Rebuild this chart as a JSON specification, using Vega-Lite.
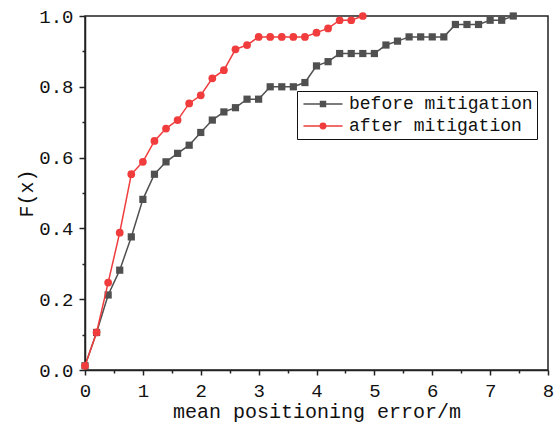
{
  "$schema": "https://vega.github.io/schema/vega-lite/v6.json",
  "width": 463,
  "height": 354,
  "autosize": {"type": "none"},
  "padding": {"left": 85, "top": 16, "right": 10, "bottom": 58},
  "background": "white",
  "view": {"stroke": "#222222", "strokeWidth": 1.5},
  "config": {
    "font": "Liberation Mono",
    "axis": {
      "grid": false,
      "domainColor": "#222222",
      "domainWidth": 1.5,
      "tickColor": "#222222",
      "tickWidth": 1.5,
      "labelFont": "Liberation Mono",
      "labelFontSize": 19,
      "labelColor": "#111111",
      "titleFont": "Liberation Mono",
      "titleFontSize": 20,
      "titleFontWeight": "normal",
      "titleColor": "#111111",
      "labelOverlap": false,
      "labelFlush": false,
      "labelBound": false
    }
  },
  "data": {
    "values": [
      {"series": "before mitigation", "x": 0.0, "y": 0.012},
      {"series": "before mitigation", "x": 0.2, "y": 0.106},
      {"series": "before mitigation", "x": 0.4, "y": 0.212},
      {"series": "before mitigation", "x": 0.6, "y": 0.282},
      {"series": "before mitigation", "x": 0.8, "y": 0.376},
      {"series": "before mitigation", "x": 1.0, "y": 0.482},
      {"series": "before mitigation", "x": 1.2, "y": 0.553},
      {"series": "before mitigation", "x": 1.4, "y": 0.588},
      {"series": "before mitigation", "x": 1.6, "y": 0.612},
      {"series": "before mitigation", "x": 1.8, "y": 0.635},
      {"series": "before mitigation", "x": 2.0, "y": 0.671},
      {"series": "before mitigation", "x": 2.2, "y": 0.706},
      {"series": "before mitigation", "x": 2.4, "y": 0.729},
      {"series": "before mitigation", "x": 2.6, "y": 0.741},
      {"series": "before mitigation", "x": 2.8, "y": 0.765},
      {"series": "before mitigation", "x": 3.0, "y": 0.765},
      {"series": "before mitigation", "x": 3.2, "y": 0.8},
      {"series": "before mitigation", "x": 3.4, "y": 0.8},
      {"series": "before mitigation", "x": 3.6, "y": 0.8},
      {"series": "before mitigation", "x": 3.8, "y": 0.812},
      {"series": "before mitigation", "x": 4.0, "y": 0.859},
      {"series": "before mitigation", "x": 4.2, "y": 0.871},
      {"series": "before mitigation", "x": 4.4, "y": 0.894},
      {"series": "before mitigation", "x": 4.6, "y": 0.894},
      {"series": "before mitigation", "x": 4.8, "y": 0.894},
      {"series": "before mitigation", "x": 5.0, "y": 0.894},
      {"series": "before mitigation", "x": 5.2, "y": 0.918},
      {"series": "before mitigation", "x": 5.4, "y": 0.929},
      {"series": "before mitigation", "x": 5.6, "y": 0.941},
      {"series": "before mitigation", "x": 5.8, "y": 0.941},
      {"series": "before mitigation", "x": 6.0, "y": 0.941},
      {"series": "before mitigation", "x": 6.2, "y": 0.941},
      {"series": "before mitigation", "x": 6.4, "y": 0.976},
      {"series": "before mitigation", "x": 6.6, "y": 0.976},
      {"series": "before mitigation", "x": 6.8, "y": 0.976},
      {"series": "before mitigation", "x": 7.0, "y": 0.988},
      {"series": "before mitigation", "x": 7.2, "y": 0.988},
      {"series": "before mitigation", "x": 7.4, "y": 1.0},
      {"series": "after mitigation", "x": 0.0, "y": 0.012},
      {"series": "after mitigation", "x": 0.2, "y": 0.106},
      {"series": "after mitigation", "x": 0.4, "y": 0.247},
      {"series": "after mitigation", "x": 0.6, "y": 0.388},
      {"series": "after mitigation", "x": 0.8, "y": 0.553},
      {"series": "after mitigation", "x": 1.0, "y": 0.588},
      {"series": "after mitigation", "x": 1.2, "y": 0.647},
      {"series": "after mitigation", "x": 1.4, "y": 0.682},
      {"series": "after mitigation", "x": 1.6, "y": 0.706},
      {"series": "after mitigation", "x": 1.8, "y": 0.753},
      {"series": "after mitigation", "x": 2.0, "y": 0.776},
      {"series": "after mitigation", "x": 2.2, "y": 0.824},
      {"series": "after mitigation", "x": 2.4, "y": 0.847},
      {"series": "after mitigation", "x": 2.6, "y": 0.906},
      {"series": "after mitigation", "x": 2.8, "y": 0.918},
      {"series": "after mitigation", "x": 3.0, "y": 0.941},
      {"series": "after mitigation", "x": 3.2, "y": 0.941},
      {"series": "after mitigation", "x": 3.4, "y": 0.941},
      {"series": "after mitigation", "x": 3.6, "y": 0.941},
      {"series": "after mitigation", "x": 3.8, "y": 0.941},
      {"series": "after mitigation", "x": 4.0, "y": 0.953},
      {"series": "after mitigation", "x": 4.2, "y": 0.965},
      {"series": "after mitigation", "x": 4.4, "y": 0.988},
      {"series": "after mitigation", "x": 4.6, "y": 0.988},
      {"series": "after mitigation", "x": 4.8, "y": 1.0}
    ]
  },
  "encoding": {
    "x": {
      "field": "x",
      "type": "quantitative",
      "scale": {"domain": [0, 8], "nice": false},
      "axis": {
        "title": "mean positioning error/m",
        "values": [0, 0.5, 1, 1.5, 2, 2.5, 3, 3.5, 4, 4.5, 5, 5.5, 6, 6.5, 7, 7.5, 8],
        "labelExpr": "datum.value % 1 ? '' : format(datum.value, 'd')",
        "tickSize": {"condition": {"test": "datum.value % 1 !== 0", "value": 3}, "value": 5},
        "labelPadding": 6,
        "titlePadding": 1
      }
    },
    "y": {
      "field": "y",
      "type": "quantitative",
      "scale": {"domain": [0, 1], "nice": false},
      "axis": {
        "title": "F(x)",
        "values": [0, 0.1, 0.2, 0.3, 0.4, 0.5, 0.6, 0.7, 0.8, 0.9, 1.0],
        "labelExpr": "round(datum.value * 10) % 2 ? '' : format(datum.value, '.1f')",
        "tickSize": {"condition": {"test": "round(datum.value * 10) % 2 !== 0", "value": 3}, "value": 6},
        "labelPadding": 6,
        "titlePadding": 2
      }
    },
    "color": {
      "field": "series",
      "type": "nominal",
      "scale": {
        "domain": ["before mitigation", "after mitigation"],
        "range": ["#505050", "#f03c3c"]
      },
      "legend": {
        "title": null,
        "orient": "none",
        "legendX": 212,
        "legendY": 75,
        "direction": "vertical",
        "padding": 4,
        "rowPadding": 4,
        "strokeColor": "#111111",
        "fillColor": "white",
        "labelFont": "Liberation Mono",
        "labelFontSize": 18,
        "labelColor": "#111111",
        "labelLimit": 400,
        "labelOffset": 30,
        "symbolSize": 169,
        "symbolStrokeWidth": 1.5,
        "encode": {
          "symbols": {
            "update": {
              "shape": {"signal": "datum.value === 'before mitigation' ? 'M-1,0H5M1.62,-0.38H2.38V0.38H1.62Z' : 'M-1,0H5M1.58,0A0.42,0.42 0 1,0 2.42,0A0.42,0.42 0 1,0 1.58,0Z'"},
              "fill": {"signal": "datum.value === 'before mitigation' ? '#505050' : '#f03c3c'"},
              "stroke": {"signal": "datum.value === 'before mitigation' ? '#505050' : '#f03c3c'"},
              "opacity": {"value": 1}
            }
          }
        }
      }
    }
  },
  "layer": [
    {
      "transform": [{"filter": "datum.series === 'before mitigation'"}],
      "mark": {"type": "line", "strokeWidth": 1.5}
    },
    {
      "transform": [{"filter": "datum.series === 'before mitigation'"}],
      "mark": {"type": "point", "shape": "square", "filled": true, "size": 52, "opacity": 1}
    },
    {
      "transform": [{"filter": "datum.series === 'after mitigation'"}],
      "mark": {"type": "line", "strokeWidth": 1.5}
    },
    {
      "transform": [{"filter": "datum.series === 'after mitigation'"}],
      "mark": {"type": "point", "shape": "circle", "filled": true, "size": 60, "opacity": 1}
    }
  ]
}
